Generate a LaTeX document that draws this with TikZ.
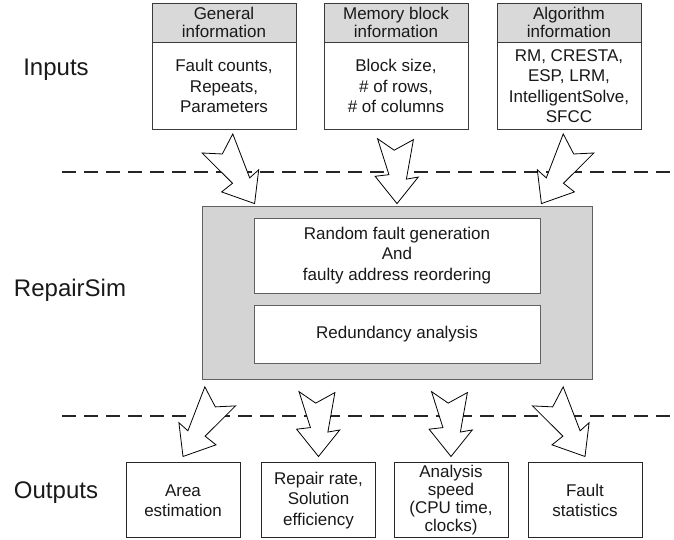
\documentclass[tikz,border=0pt]{standalone}
\usepackage{fontspec}
\setmainfont{Liberation Sans}
\usetikzlibrary{calc}
\definecolor{hdrgray}{HTML}{D9D9D9}
\definecolor{simgray}{HTML}{D4D4D4}
\definecolor{edge}{HTML}{3A3A3A}
\begin{document}
\begin{tikzpicture}[x=1pt,y=1pt,
  txt/.style={align=center, text=black!90, inner sep=0pt,
    font=\fontsize{17}{20.5}\selectfont},
  hdr/.style={txt, draw=edge, line width=0.9pt, fill=hdrgray,
    minimum width=144pt, minimum height=39pt,
    font=\fontsize{17}{18.5}\selectfont},
  body/.style={txt, draw=edge, line width=0.9pt, fill=white,
    minimum width=144pt, minimum height=87pt},
  simbox/.style={draw=edge!80, line width=0.8pt, fill=simgray,
    minimum width=390pt, minimum height=173pt, inner sep=0pt},
  stage/.style={txt, draw=edge!80, line width=0.8pt, fill=white,
    minimum width=286pt},
  outbox/.style={txt, draw=black!85, line width=1pt, fill=white,
    minimum width=114pt, minimum height=75pt},
  side/.style={text=black!90, inner sep=0pt, font=\fontsize{24}{28}\selectfont},
  dashline/.style={line width=1.8pt, dash pattern=on 14pt off 8pt, black!85},
  boltline/.style={draw=black, line width=0.8pt, fill=white, line join=miter},
  % zig-zag block arrow, tip at the origin, pointing down
  bolt/.pic={\path[boltline] (0,73)--(3,26)--(14,31)--(0,0)--(-28,21)
      --(-15,26)--(-35,64)--(-16,57)--cycle;},
  % shorter variant with a notched tail
  vbolt/.pic={\path[boltline] (0,66)--(3,26)--(14,31)--(0,0)--(-28,21)
      --(-15,26)--(-35,58)--(-16,51)--cycle;}
]
\useasboundingbox (0,0) rectangle (674,540);

% separators between the three layers
\coordinate (d1a) at (62,368);
\coordinate (d1b) at (674,368);
\coordinate (d2a) at (62,124);
\coordinate (d2b) at (674,124);
\draw[dashline] (d1a) -- (d1b);
\draw[dashline] (d2a) -- (d2b);

% layer labels
\node[side] (lin)  at (56,470) {Inputs};
\node[side] (lsim) at (70,250) {RepairSim};
\node[side] (lout) at (56,47)  {Outputs};

% input boxes
\node[hdr] (genH) at (224,517.5) {General\\information};
\node[body, anchor=north] (genB) at (genH.south) {Fault counts,\\Repeats,\\Parameters};
\node[hdr] (memH) at (396,517.5) {Memory block\\information};
\node[body, anchor=north] (memB) at (memH.south) {Block size,\\\# of rows,\\\# of columns};
\node[hdr] (algH) at (569,517.5) {Algorithm\\information};
\node[body, anchor=north] (algB) at (algH.south) {RM, CRESTA,\\ESP, LRM,\\IntelligentSolve,\\SFCC};

% simulator block
\node[simbox] (sim) at (397,247.5) {};
\node[stage, minimum height=75pt] (rfg) at (397,284.5)
  {Random fault generation\\And\\faulty address reordering};
\node[stage, minimum height=58pt] (ra) at (397,206) {Redundancy analysis};

% output boxes
\node[outbox] (o1) at (183,39.5) {Area\\estimation};
\node[outbox] (o2) at (318.5,39.5) {Repair rate,\\Solution\\efficiency};
\node[outbox, font=\fontsize{17}{18}\selectfont] (o3) at (451,39.5)
  {Analysis\\speed\\(CPU time,\\clocks)};
\node[outbox] (o4) at (585,39.5) {Fault\\statistics};

% block arrows into the simulator
\pic[rotate=17.4] at ([shift={(53,2)}]sim.north west) {bolt};
\pic[rotate=-14.4] at ([yshift=2]sim.north) {vbolt};
\pic[rotate=-17.4, xscale=-1] at ([shift={(-51,2)}]sim.north east) {bolt};

% block arrows out of the simulator
\pic[rotate=-17.4, xscale=-1] at ([yshift=6]o1.north) {bolt};
\pic[rotate=-14.4] at ([yshift=6]o2.north) {vbolt};
\pic[rotate=-14.4] at ([yshift=6]o3.north) {vbolt};
\pic[rotate=17.4] at ([yshift=6]o4.north) {bolt};
\end{tikzpicture}
\end{document}
